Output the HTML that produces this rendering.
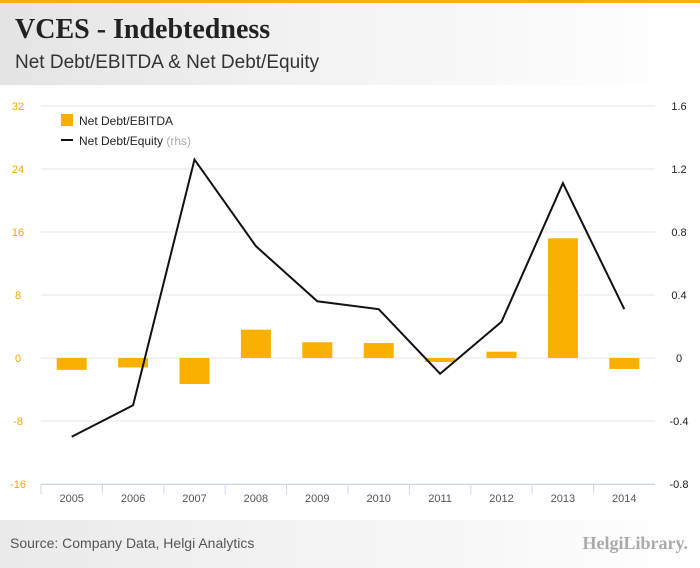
<!DOCTYPE html>
<html><head><meta charset="utf-8"><style>
body{margin:0;width:700px;height:568px;overflow:hidden;background:#fff;font-family:"Liberation Sans",sans-serif}
#top{position:absolute;left:0;top:0;width:700px;height:3px;background:#f5b000}
#head{position:absolute;left:0;top:3px;width:700px;height:82px;background:linear-gradient(90deg,#e4e4e4,#f4f4f4 50%,#fff)}
#title{position:absolute;left:15px;top:14px;font:bold 28px "Liberation Serif",serif;color:#222}
#sub{position:absolute;left:15px;top:52px;font:19px "Liberation Sans",sans-serif;color:#333}
#foot{position:absolute;left:0;top:520px;width:700px;height:48px;background:linear-gradient(90deg,#eaeaea,#f6f6f6 60%,#fff)}
#src{position:absolute;left:10px;top:535px;font:14px "Liberation Sans",sans-serif;color:#555}
#logo{position:absolute;right:12px;top:533px;font:bold 18px "Liberation Serif",serif;color:#aaa}
svg{position:absolute;left:0;top:0}
</style></head><body>
<div id="top"></div>
<div id="head"></div>
<div id="title">VCES - Indebtedness</div>
<div id="sub">Net Debt/EBITDA &amp; Net Debt/Equity</div>
<svg id="chart" width="700" height="568"></svg>
<div id="foot"></div>
<div id="src">Source: Company Data, Helgi Analytics</div>
<div id="logo">HelgiLibrary.</div>
<script>
const categories=["2005","2006","2007","2008","2009","2010","2011","2012","2013","2014"];
const debtEbitda=[-1.5,-1.2,-3.3,3.6,2.0,1.9,-0.5,0.8,15.2,-1.4];
const debtEquity=[-0.50,-0.30,1.26,0.71,0.36,0.31,-0.10,0.23,1.11,0.31];
const leftTicks=[32,24,16,8,0,-8,-16];
const rightTicks=[1.6,1.2,0.8,0.4,0,-0.4,-0.8];
const NS="http://www.w3.org/2000/svg";
const svg=document.getElementById('chart');
const x0=41,x1=655,yT=106,yB=484;
const yL=v=>yT+(32-v)*(yB-yT)/48;
const yR=v=>yT+(1.6-v)*(yB-yT)/2.4;
const step=(x1-x0)/categories.length;
const xc=i=>x0+step*(i+0.5);
function el(t,a){const e=document.createElementNS(NS,t);for(const k in a)e.setAttribute(k,a[k]);svg.appendChild(e);return e;}
leftTicks.forEach((v,i)=>{
 const g=el('line',{x1:x0,x2:x1,y1:yL(v),y2:yL(v),stroke:'#e6e6e6'});
 
 
 const t=el('text',{x:18,y:yL(v)+4,'text-anchor':'middle','font-size':11,fill:'#f5a800'});t.textContent=v;
 
 
 const r=el('text',{x:679,y:yR(rightTicks[i])+4,'text-anchor':'middle','font-size':11,fill:'#222'});r.textContent=rightTicks[i];
 
 
});
const ax=el('line',{x1:x0,x2:x1,y1:yB+0.5,y2:yB+0.5,stroke:'#ccd6eb'});


categories.forEach((c,i)=>{
 const tk=el('line',{x1:x0+step*i,x2:x0+step*i,y1:yB,y2:yB+10,stroke:'#ccd6eb'});
 
 
 const t=el('text',{x:xc(i),y:502,'text-anchor':'middle','font-size':11,fill:'#555'});t.textContent=c;
 
 
 const v=debtEbitda[i];const y0=yL(0),y=yL(v);
 const b=el('rect',{x:xc(i)-15,y:Math.min(y,y0),width:30,height:Math.abs(y-y0),fill:'#f9b000'});
 
 
});
const p=el('polyline',{points:debtEquity.map((v,i)=>xc(i)+','+yR(v)).join(' '),fill:'none',stroke:'#111','stroke-width':2});


const lb=el('rect',{x:61,y:114,width:12,height:12,fill:'#f9b000'});


const l1=el('text',{x:79,y:125,'font-size':12,fill:'#222'});l1.textContent='Net Debt/EBITDA';


const ll=el('line',{x1:61,x2:73,y1:140,y2:140,stroke:'#111','stroke-width':2});


const l2=el('text',{x:79,y:145,'font-size':12,fill:'#222'});l2.innerHTML='Net Debt/Equity <tspan fill="#aaa">(rhs)</tspan>';


</script>
</body></html>
